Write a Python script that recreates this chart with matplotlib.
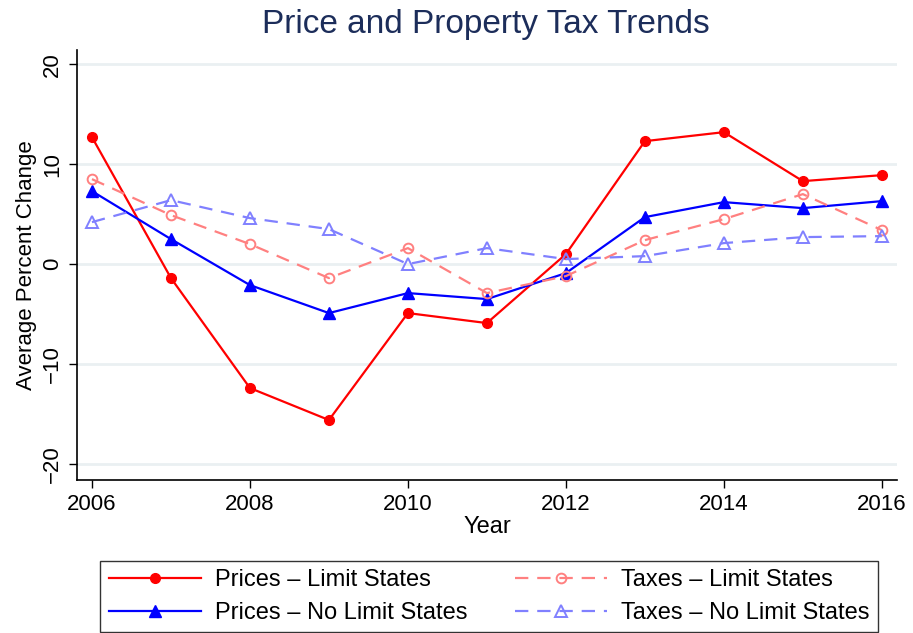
import matplotlib
matplotlib.use("Agg")
import matplotlib.pyplot as plt

plt.rcParams['font.family'] = ['Liberation Sans', 'DejaVu Sans']

# ====================================================================
# Data
# ====================================================================
years = [2006, 2007, 2008, 2009, 2010, 2011, 2012, 2013, 2014, 2015, 2016]
prices_limit = [12.7, -1.4, -12.4, -15.6, -4.9, -5.9, 1.0, 12.3, 13.2, 8.3, 8.9]
prices_nolimit = [7.3, 2.5, -2.1, -4.9, -2.9, -3.5, -0.9, 4.7, 6.2, 5.6, 6.3]
taxes_limit = [8.5, 4.9, 2.0, -1.4, 1.6, -2.9, -1.2, 2.4, 4.5, 7.0, 3.4]
taxes_nolimit = [4.2, 6.4, 4.6, 3.5, 0.0, 1.6, 0.5, 0.8, 2.1, 2.7, 2.8]

x_ticks = [2006, 2008, 2010, 2012, 2014, 2016]
y_ticks = [-20, -10, 0, 10, 20]

# ====================================================================
# Plotting
# ====================================================================
fig = plt.figure(figsize=(9.13, 6.33), dpi=100)
ax = fig.add_axes([0.0843, 0.2417, 0.898, 0.679])

for yt in y_ticks:
    ax.axhline(yt, color="#eaf0f2", linewidth=2, zorder=0)

ax.plot(years, prices_limit, color="#ff0000", lw=1.6, marker="o", ms=7,
        label="Prices \u2013 Limit States")
ax.plot(years, prices_nolimit, color="#0000ff", lw=1.6, marker="^", ms=8,
        label="Prices \u2013 No Limit States")
ax.plot(years, taxes_limit, color="#ff8080", lw=1.6, ls=(0, (6, 4)), marker="o",
        ms=7, mfc="none", mew=1.4, label="Taxes \u2013 Limit States")
ax.plot(years, taxes_nolimit, color="#8080ff", lw=1.6, ls=(0, (6, 4)), marker="^",
        ms=8, mfc="none", mew=1.4, label="Taxes \u2013 No Limit States")

ax.set_xlim(2005.81, 2016.19)
ax.set_ylim(-21.6, 21.4)
ax.set_xticks(x_ticks)
ax.set_yticks(y_ticks)
ax.set_yticklabels([str(v).replace("-", "\u2212") for v in y_ticks],
                   rotation=90, va="center")
ax.tick_params(axis="both", labelsize=16, length=6, width=1, direction="out")
ax.tick_params(axis="x", pad=4)
ax.tick_params(axis="y", pad=4)

for side in ["top", "right"]:
    ax.spines[side].set_visible(False)
for side in ["left", "bottom"]:
    ax.spines[side].set_linewidth(1.2)

ax.set_xlabel("Year", fontsize=17, labelpad=1)
ax.set_ylabel("Average Percent Change", fontsize=16, labelpad=4)
fig.suptitle("Price and Property Tax Trends", fontsize=24, color="#1c2d5a",
             x=0.532, y=0.986)

leg = fig.legend(loc="lower center", bbox_to_anchor=(0.5355, 0.001), ncol=2,
                 fontsize=17, frameon=True, fancybox=False, edgecolor="black",
                 handlelength=3.9, handletextpad=0.6, columnspacing=2.0,
                 borderpad=0.35, labelspacing=0.45, borderaxespad=0)
leg.get_frame().set_linewidth(1.0)

plt.savefig("out.png", dpi=100)
